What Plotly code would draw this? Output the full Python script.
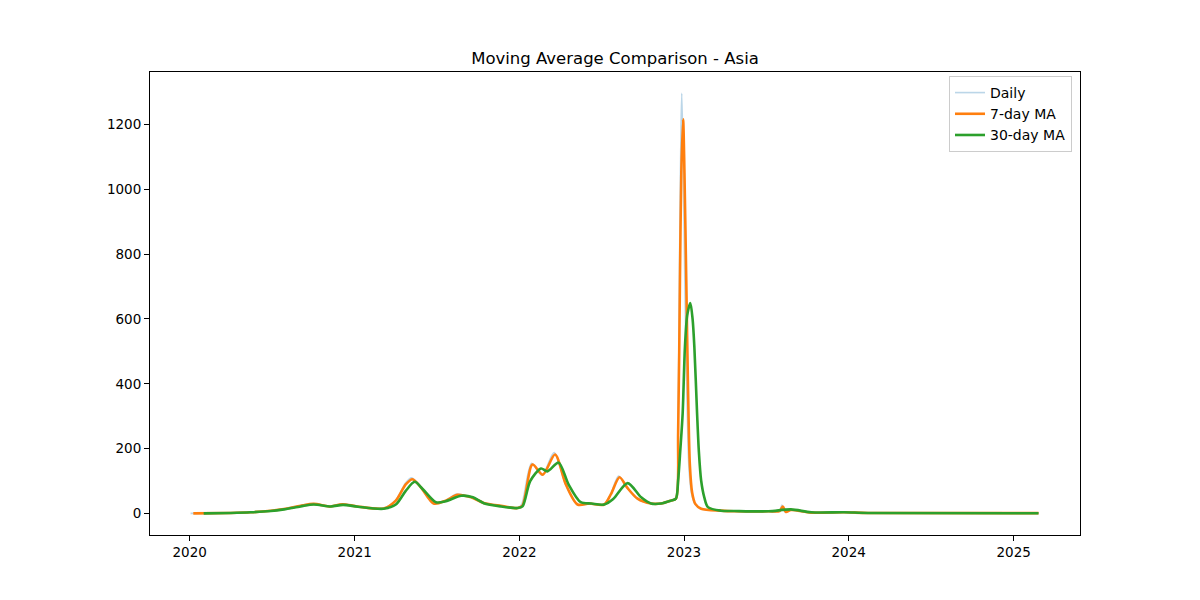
import plotly.graph_objects as go

# ---- data ----
ma7_dates = ["2020-01-09", "2020-04-01", "2020-05-15", "2020-06-29", "2020-07-28", "2020-09-03",
             "2020-10-02", "2020-11-09", "2020-12-04", "2021-01-07", "2021-03-06", "2021-04-02",
             "2021-04-24", "2021-05-09", "2021-05-28", "2021-06-25", "2021-07-22", "2021-08-17",
             "2021-09-16", "2021-10-14", "2021-11-21", "2021-12-28", "2022-01-08", "2022-01-30",
             "2022-02-22", "2022-03-21", "2022-04-14", "2022-05-10", "2022-06-05", "2022-07-08",
             "2022-07-23", "2022-08-11", "2022-08-28", "2022-09-20", "2022-10-20", "2022-11-11",
             "2022-12-03", "2022-12-14",
             "2022-12-19", "2022-12-23", "2022-12-26", "2022-12-30", "2023-01-02", "2023-01-06",
             "2023-01-10", "2023-01-14", "2023-01-19", "2023-01-26", "2023-02-08", "2023-03-24",
             "2023-04-22", "2023-07-07", "2023-08-01", "2023-08-08", "2023-08-15",
             "2023-08-26", "2023-10-10", "2023-12-22", "2024-02-13", "2025-02-25"]
ma7_values = [0.5, 2, 4, 9, 14, 24,
              30, 22, 29, 22, 16, 40,
              90, 106, 80, 31, 40, 58,
              50, 33, 24, 17, 25, 151,
              120, 182, 90, 28, 31, 28,
              60, 112, 80, 46, 31, 31,
              40, 46,
              250, 720, 1050, 1215, 1050, 720,
              380, 150, 65, 30, 15, 9,
              7, 7, 8, 22, 5,
              11, 3, 4, 2, 1.5]

ma30_dates = ["2020-02-01", "2020-04-01", "2020-05-15", "2020-06-29", "2020-07-28", "2020-09-03",
              "2020-10-02", "2020-11-09", "2020-12-06", "2021-01-08", "2021-03-06", "2021-04-02",
              "2021-04-24", "2021-05-14", "2021-06-01", "2021-06-30", "2021-07-22", "2021-08-25",
              "2021-09-20", "2021-10-14", "2021-11-21", "2021-12-28", "2022-01-08", "2022-01-25",
              "2022-02-18", "2022-03-04", "2022-03-29", "2022-04-20", "2022-05-17", "2022-06-10",
              "2022-07-08", "2022-07-28", "2022-08-29", "2022-09-28", "2022-10-20", "2022-11-11",
              "2022-12-03", "2022-12-14",
              "2022-12-19", "2022-12-24", "2022-12-29", "2023-01-03", "2023-01-08", "2023-01-15",
              "2023-01-20", "2023-01-24", "2023-01-30", "2023-02-03", "2023-02-08", "2023-02-15",
              "2023-02-23", "2023-03-24", "2023-04-22", "2023-07-07", "2023-08-26", "2023-10-10",
              "2023-12-22", "2024-02-13", "2025-02-25"]
ma30_values = [0.5, 2, 4, 8, 13, 22,
               28, 22, 27, 21, 15, 28,
               70, 98, 75, 35, 38, 55,
               50, 32, 22, 17, 22, 100,
               139, 130, 157, 90, 35, 31,
               28, 45, 94, 50, 31, 31,
               40, 46,
               102, 200, 308, 512, 610, 649,
               600, 512, 308, 190, 102, 50,
               20, 9, 8, 7, 13, 4,
               4, 2, 1]

daily_dates = ["2020-01-03", "2020-04-01", "2020-05-15", "2020-06-29", "2020-07-28", "2020-09-03",
               "2020-10-02", "2020-11-09", "2020-12-04", "2021-01-07", "2021-03-06", "2021-04-02",
               "2021-04-24", "2021-05-07", "2021-05-28", "2021-06-25", "2021-07-22", "2021-08-15",
               "2021-09-16", "2021-10-14", "2021-11-21", "2021-12-28", "2022-01-06", "2022-01-28",
               "2022-02-20", "2022-03-19", "2022-04-14", "2022-05-10", "2022-06-05", "2022-07-08",
               "2022-07-23", "2022-08-09", "2022-08-28", "2022-09-20", "2022-10-20", "2022-11-11",
               "2022-12-03", "2022-12-14",
               "2022-12-19", "2022-12-22", "2022-12-25", "2022-12-27", "2022-12-30", "2023-01-03",
               "2023-01-08", "2023-01-12", "2023-01-18", "2023-01-26", "2023-02-08", "2023-03-24",
               "2023-04-22", "2023-07-07", "2023-08-01", "2023-08-06", "2023-08-13",
               "2023-08-26", "2023-10-10", "2023-12-22", "2024-02-13", "2025-02-25"]
daily_values = [0.5, 2, 4, 9, 15, 25,
                31, 22, 30, 22, 16, 42,
                95, 110, 80, 30, 41, 60,
                50, 33, 24, 17, 28, 155,
                118, 188, 88, 27, 31, 28,
                62, 116, 80, 45, 31, 31,
                40, 48,
                300, 760, 1150, 1295, 1100, 700,
                330, 140, 60, 28, 15, 9,
                7, 7, 8, 26, 5,
                11, 3, 4, 2, 1.5]

series_names = ["Daily", "7-day MA", "30-day MA"]
title_text = "Moving Average Comparison - Asia"
y_ticks = [0, 200, 400, 600, 800, 1000, 1200]
x_ticks = ["2020-01-01", "2021-01-01", "2022-01-01", "2023-01-01", "2024-01-01", "2025-01-01"]
x_tick_labels = ["2020", "2021", "2022", "2023", "2024", "2025"]

fig = go.Figure()
fig.add_trace(go.Scatter(x=daily_dates, y=daily_values, mode="lines", name=series_names[0],
                         line=dict(color="rgba(31,119,180,0.3)", width=1.6, shape="spline", smoothing=0.8)))
fig.add_trace(go.Scatter(x=ma7_dates, y=ma7_values, mode="lines", name=series_names[1],
                         line=dict(color="#ff7f0e", width=2.6, shape="spline", smoothing=0.8)))
fig.add_trace(go.Scatter(x=ma30_dates, y=ma30_values, mode="lines", name=series_names[2],
                         line=dict(color="#2ca02c", width=2.6, shape="spline", smoothing=0.8)))

axis_common = dict(showline=True, linecolor="black", linewidth=1, mirror=True,
                   ticks="outside", ticklen=5, tickcolor="black", showgrid=False,
                   zeroline=False, tickfont=dict(family="DejaVu Sans", size=13.5, color="black"))

fig.update_layout(
    width=1200, height=600,
    paper_bgcolor="white", plot_bgcolor="white",
    margin=dict(l=142, r=128, t=64, b=73),
    title=dict(text=title_text, x=0.5, xref="paper", xanchor="center", y=0.917, yanchor="middle",
               font=dict(family="DejaVu Sans", size=16.5, color="black")),
    showlegend=True,
    legend=dict(x=0.9914, y=0.9914, xanchor="right", yanchor="top",
                bordercolor="#cccccc", borderwidth=1, bgcolor="rgba(255,255,255,0.8)",
                font=dict(family="DejaVu Sans", size=14, color="black"),
                tracegroupgap=0, itemwidth=30),
    xaxis=dict(range=["2019-10-05", "2025-05-28"], tickvals=x_ticks, ticktext=x_tick_labels, **axis_common),
    yaxis=dict(range=[-66, 1361], tickvals=y_ticks, **axis_common),
)

fig.write_html("out.html")
